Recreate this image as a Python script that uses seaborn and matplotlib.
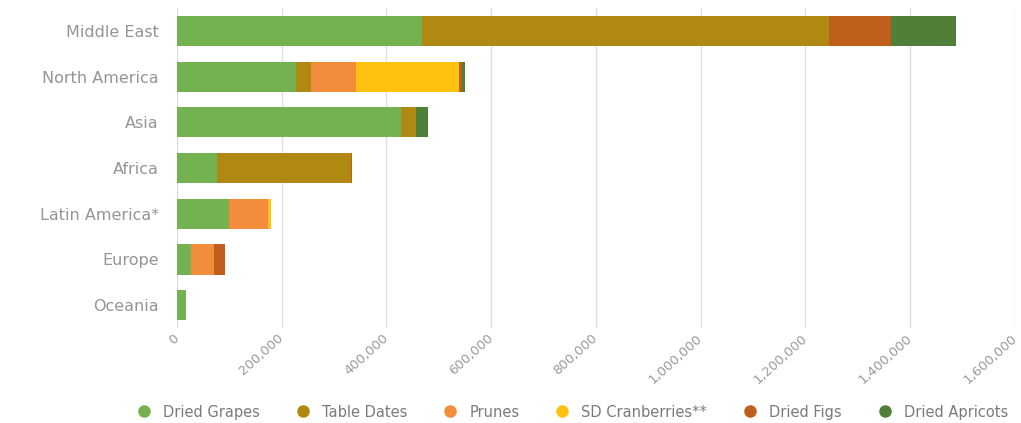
import matplotlib
matplotlib.use("Agg")
import matplotlib.pyplot as plt
from matplotlib.lines import Line2D
from matplotlib.ticker import FuncFormatter, MultipleLocator
import seaborn as sns
import pandas as pd

regions = ["Middle East", "North America", "Asia", "Africa",
           "Latin America*", "Europe", "Oceania"]
products = ["Dried Grapes", "Table Dates", "Prunes", "SD Cranberries**",
            "Dried Figs", "Dried Apricots"]

dried_grapes = [467000, 228000, 427000, 76000, 99000, 27000, 17000]
table_dates = [778000, 27000, 29000, 256000, 0, 0, 0]
prunes = [0, 86000, 0, 0, 75000, 44000, 0]
sd_cranberries = [0, 198000, 0, 0, 6000, 0, 0]
dried_figs = [118000, 5000, 0, 3000, 0, 20000, 0]
dried_apricots = [125000, 5000, 24000, 0, 0, 0, 0]

colors = ["#74b150", "#b08912", "#f28d3c", "#ffc20e", "#c05f1b", "#4f7f38"]

series = [dried_grapes, table_dates, prunes, sd_cranberries, dried_figs, dried_apricots]
df = pd.DataFrame({"region": regions})
for name, vals in zip(products, series):
    df[name] = vals

sns.set_theme(style="white")
plt.rcParams["font.family"] = ["DejaVu Sans"]

fig = plt.figure(figsize=(10.21, 4.23), dpi=100)
ax = fig.add_axes([0.1734, 0.2246, 0.8206, 0.7564])

# stacked bars: draw cumulative totals from the outermost segment inwards
cum = df[products].cumsum(axis=1)
for name, col in reversed(list(zip(products, colors))):
    sns.barplot(x=cum[name], y=df["region"], order=regions, color=col,
                width=0.66, saturation=1, ax=ax, edgecolor="none")

ax.set_xlim(0, 1600000)
ax.xaxis.set_major_locator(MultipleLocator(200000))
ax.xaxis.set_major_formatter(FuncFormatter(lambda v, p: f"{int(v):,}"))
ax.grid(axis="x", color="#dedede", linewidth=1)
ax.set_axisbelow(True)
for s in ax.spines.values():
    s.set_visible(False)
ax.set_xlabel("")
ax.set_ylabel("")
ax.tick_params(axis="y", length=0, pad=13, labelsize=11.5, labelcolor="#959595")
ax.tick_params(axis="x", length=0, pad=6, labelsize=9.5, labelcolor="#9a9a9a")
for lab in ax.get_xticklabels():
    lab.set_rotation(42)
    lab.set_ha("right")
    lab.set_va("center")
    lab.set_rotation_mode("anchor")

handles = [Line2D([0], [0], marker="o", linestyle="none", markersize=8,
                  markerfacecolor=c, markeredgecolor=c) for c in colors]
fig.legend(handles, products, loc="center", bbox_to_anchor=(0.557, 0.026),
           ncol=6, frameon=False, fontsize=10.5, labelcolor="#7a7a7a",
           handletextpad=0.3, columnspacing=1.95)

fig.savefig("out.png", dpi=100)
